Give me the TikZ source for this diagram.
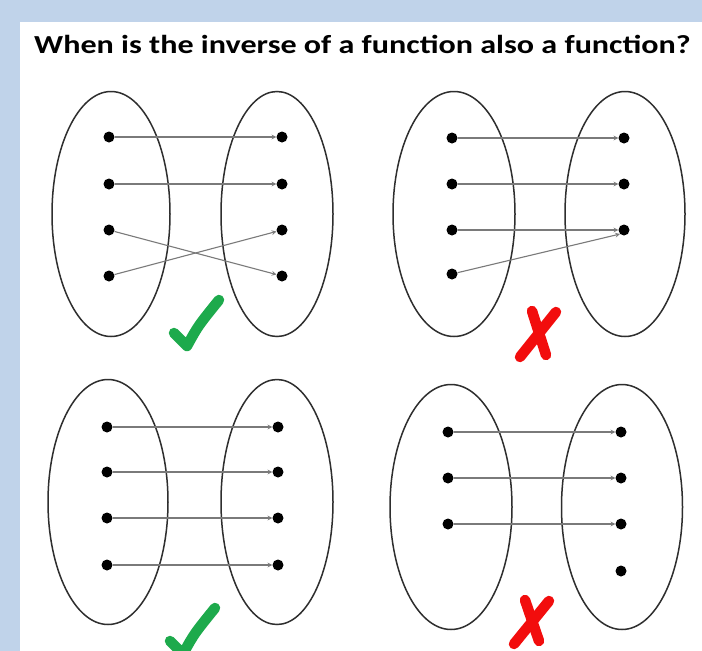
\documentclass[tikz,border=0pt]{standalone}
\usepackage{fontspec}
\setmainfont{Carlito}
\usetikzlibrary{shapes.geometric}
\definecolor{bgblue}{HTML}{C0D3EA}
\definecolor{ovalline}{HTML}{2E2E2E}
\definecolor{mapgray}{HTML}{7A7A7A}
\definecolor{tickgreen}{HTML}{1DAA4C}
\definecolor{crossred}{HTML}{F20D0D}
\begin{document}
\begin{tikzpicture}[>=stealth, x=1pt, y=-1pt,
  setoval/.style={draw=ovalline, line width=1.5pt, ellipse, inner sep=0pt, minimum height=245pt},
  elem/.style={circle, fill=black, minimum size=11pt, inner sep=0pt},
  mapline/.style={->, draw=mapgray, line width=1.1pt},
  tick/.style={draw=tickgreen, line width=10.5pt, line cap=round, line join=round},
  cross/.style={draw=crossred, line width=10.5pt, line cap=round}]
\fill[bgblue] (0,0) rectangle (702,651);
\fill[white] (20,22) rectangle (702,651);
\useasboundingbox (0,0) rectangle (702,651);
\node[anchor=base west, inner sep=0pt, xscale=1.235, font=\bfseries\fontsize{26}{30}\selectfont] (title) at (34,53) {When is the inverse of a function also a function?};
% top left
\node[setoval, minimum width=118pt] (A1) at (111,214) {};
\node[setoval, minimum width=112pt] (B1) at (277,214) {};
\node[elem] (a11) at (109,137) {};
\node[elem] (a12) at (109,184) {};
\node[elem] (a13) at (109,230) {};
\node[elem] (a14) at (109,276) {};
\node[elem] (b11) at (282,137) {};
\node[elem] (b12) at (282,184) {};
\node[elem] (b13) at (282,230) {};
\node[elem] (b14) at (282,276) {};
\draw[mapline] (a11) -- (b11);
\draw[mapline] (a12) -- (b12);
\draw[mapline] (a13) -- (b14);
\draw[mapline] (a14) -- (b13);
\draw[tick] (174,333) -- (187,346) .. controls (198,326) .. (219,300);
% top right
\node[setoval, minimum width=122pt] (A2) at (454,214) {};
\node[setoval, minimum width=120pt] (B2) at (625,214) {};
\node[elem] (a21) at (452,138) {};
\node[elem] (a22) at (452,184) {};
\node[elem] (a23) at (452,230) {};
\node[elem] (a24) at (452,274) {};
\node[elem] (b21) at (624,138) {};
\node[elem] (b22) at (624,184) {};
\node[elem] (b23) at (624,230) {};
\draw[mapline] (a21) -- (b21);
\draw[mapline] (a22) -- (b22);
\draw[mapline] (a23) -- (b23);
\draw[mapline] (a24) -- (b23.south west);
\draw[cross] (556,312) -- (520,357);
\draw[cross] (532,311) -- (546,355);
% bottom left
\node[setoval, minimum width=120pt] (A3) at (108,502) {};
\node[setoval, minimum width=112pt] (B3) at (277,502) {};
\node[elem] (a31) at (107,427) {};
\node[elem] (a32) at (107,472) {};
\node[elem] (a33) at (107,518) {};
\node[elem] (a34) at (107,565) {};
\node[elem] (b31) at (278,427) {};
\node[elem] (b32) at (278,472) {};
\node[elem] (b33) at (278,518) {};
\node[elem] (b34) at (278,565) {};
\draw[mapline] (a31) -- (b31);
\draw[mapline] (a32) -- (b32);
\draw[mapline] (a33) -- (b33);
\draw[mapline] (a34) -- (b34);
\draw[tick] (170,641) -- (183,654) .. controls (194,634) .. (215,608);
% bottom right
\node[setoval, minimum width=122pt] (A4) at (451,507) {};
\node[setoval, minimum width=121pt] (B4) at (622,507) {};
\node[elem] (a41) at (448,432) {};
\node[elem] (a42) at (448,478) {};
\node[elem] (a43) at (448,524) {};
\node[elem] (b41) at (621,432) {};
\node[elem] (b42) at (621,478) {};
\node[elem] (b43) at (621,524) {};
\node[elem] (b44) at (621,571) {};
\draw[mapline] (a41) -- (b41);
\draw[mapline] (a42) -- (b42);
\draw[mapline] (a43) -- (b43);
\draw[cross] (549,601) -- (514,644);
\draw[cross] (525,600) -- (539,641);
\end{tikzpicture}
\end{document}
